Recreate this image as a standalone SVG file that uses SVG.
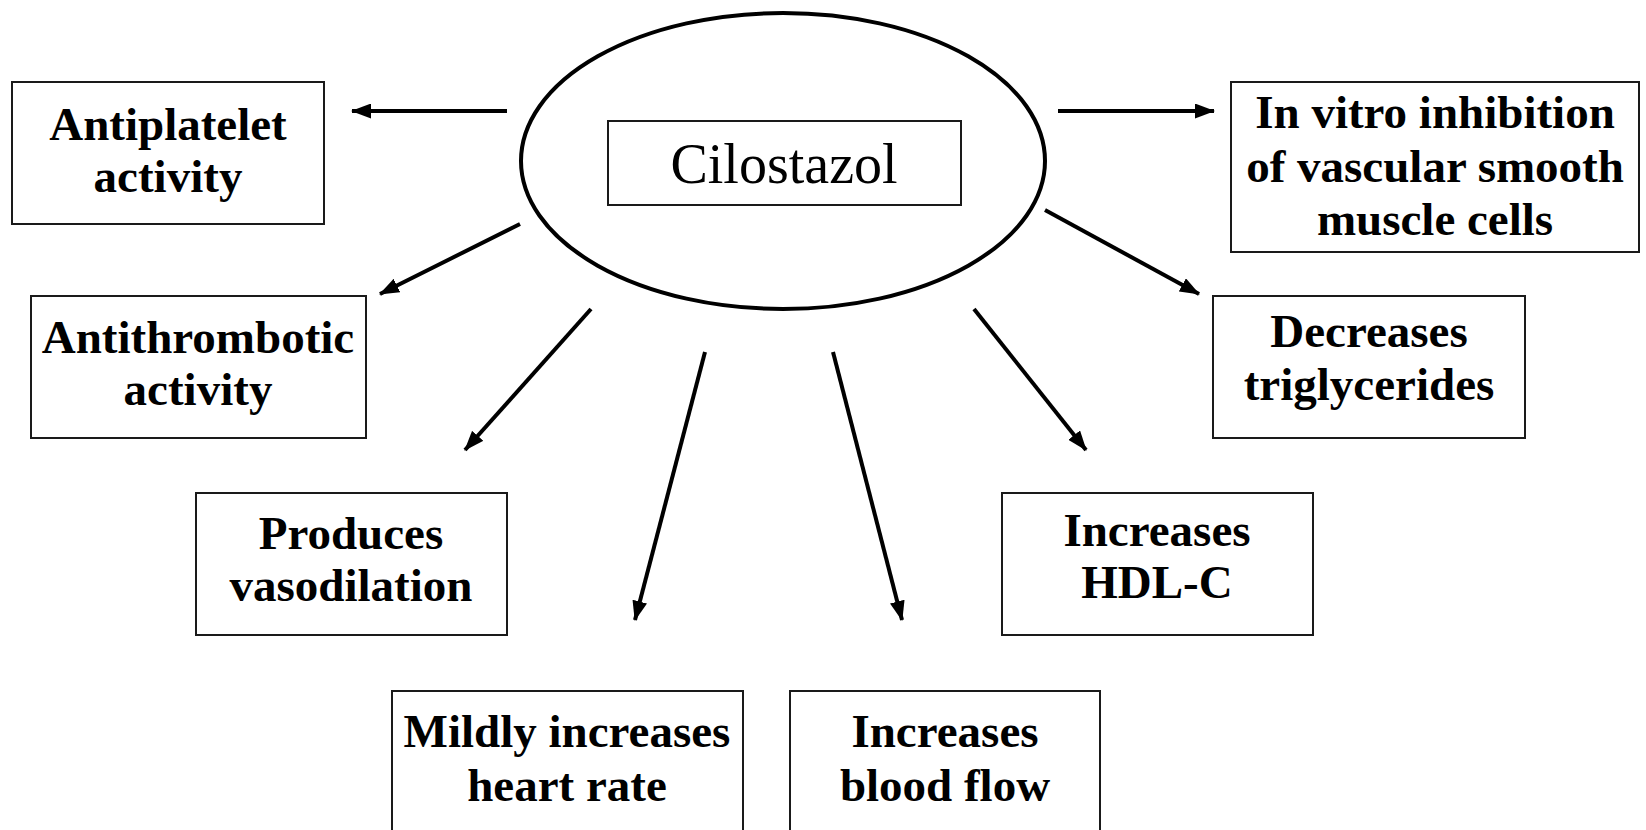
<svg xmlns="http://www.w3.org/2000/svg" width="1646" height="830" viewBox="0 0 1646 830">
<style>
.box{fill:#fff;stroke:#1a1a1a;stroke-width:2}
.t{font-family:"Liberation Serif","Times New Roman",serif;font-weight:bold;font-size:47px;fill:#000;text-anchor:middle}
.c{font-family:"Liberation Serif","Times New Roman",serif;font-size:56px;fill:#000;text-anchor:middle}
.ar{stroke:#000;stroke-width:4;fill:none;marker-end:url(#ah)}
</style>
<defs>
<marker id="ah" markerUnits="userSpaceOnUse" markerWidth="20" markerHeight="15" refX="19" refY="7.5" orient="auto">
<path d="M0,0 L20,7.5 L0,15 z" fill="#000"/>
</marker>
</defs>
<rect width="1646" height="830" fill="#fff"/>
<g id="center">
<ellipse cx="783" cy="161" rx="262" ry="148" fill="none" stroke="#000" stroke-width="4"/>
<rect class="box" x="608" y="121" width="353" height="84" stroke-width="1.5"/>
<text class="c" x="784" y="183">Cilostazol</text>
</g>
<g id="antiplatelet">
<rect class="box" x="12" y="82" width="312" height="142"/>
<text class="t" x="168" y="140">Antiplatelet</text>
<text class="t" x="168" y="192">activity</text>
</g>
<g id="antithrombotic">
<rect class="box" x="31" y="296" width="335" height="142"/>
<text class="t" x="198" y="353">Antithrombotic</text>
<text class="t" x="198" y="405">activity</text>
</g>
<g id="vasodilation">
<rect class="box" x="196" y="493" width="311" height="142"/>
<text class="t" x="351" y="549">Produces</text>
<text class="t" x="351" y="601">vasodilation</text>
</g>
<g id="heartrate">
<rect class="box" x="392" y="691" width="351" height="160"/>
<text class="t" x="567" y="747">Mildly increases</text>
<text class="t" x="567" y="801">heart rate</text>
</g>
<g id="bloodflow">
<rect class="box" x="790" y="691" width="310" height="160"/>
<text class="t" x="945" y="747">Increases</text>
<text class="t" x="945" y="801">blood flow</text>
</g>
<g id="hdl">
<rect class="box" x="1002" y="493" width="311" height="142"/>
<text class="t" x="1157" y="546">Increases</text>
<text class="t" x="1157" y="598">HDL-C</text>
</g>
<g id="triglycerides">
<rect class="box" x="1213" y="296" width="312" height="142"/>
<text class="t" x="1369" y="347">Decreases</text>
<text class="t" x="1369" y="400">triglycerides</text>
</g>
<g id="invitro">
<rect class="box" x="1231" y="82" width="408" height="170"/>
<text class="t" x="1435" y="128">In vitro inhibition</text>
<text class="t" x="1435" y="182">of vascular smooth</text>
<text class="t" x="1435" y="235">muscle cells</text>
</g>
<g id="connectors">
<line class="ar" x1="507" y1="111" x2="352" y2="111"/>
<line class="ar" x1="520" y1="224" x2="380" y2="294"/>
<line class="ar" x1="591" y1="309" x2="465" y2="450"/>
<line class="ar" x1="705" y1="352" x2="635" y2="620"/>
<line class="ar" x1="833" y1="352" x2="902" y2="620"/>
<line class="ar" x1="974" y1="309" x2="1086" y2="450"/>
<line class="ar" x1="1045" y1="210" x2="1199" y2="294"/>
<line class="ar" x1="1058" y1="111" x2="1214" y2="111"/>
</g>
</svg>
